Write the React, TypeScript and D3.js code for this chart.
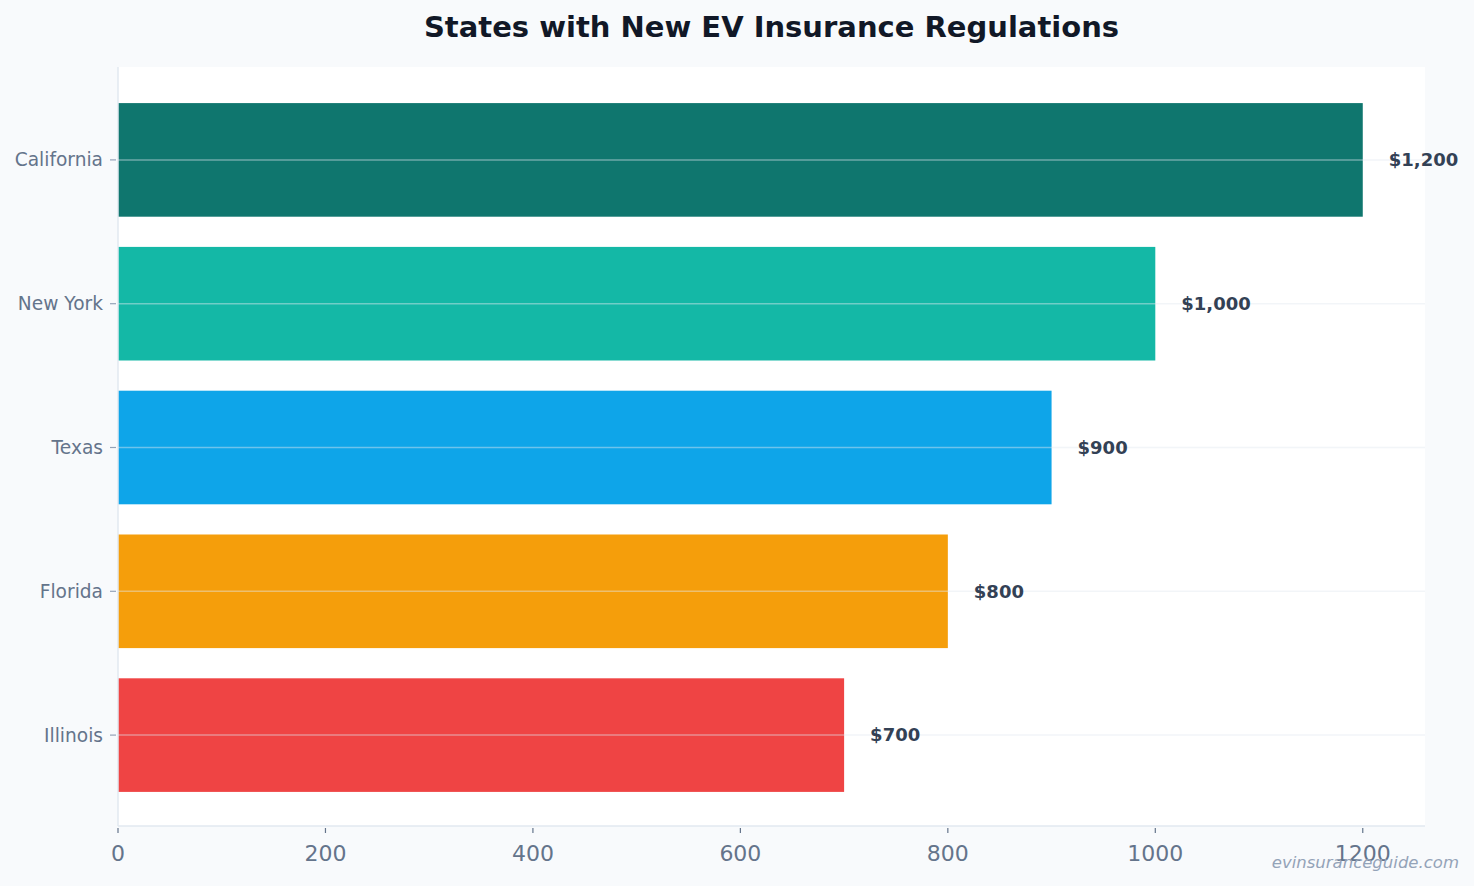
import React from "react";
import * as d3 from "d3";

const states = ["California", "New York", "Texas", "Florida", "Illinois"];
const costs = [1200, 1000, 900, 800, 700];
const barColors = ["#0f766e", "#14b8a6", "#0ea5e9", "#f59e0b", "#ef4444"];
const xTicks = [0, 200, 400, 600, 800, 1000, 1200];

const W = 1474;
const H = 886;
const plot = { left: 118, right: 1425, top: 67, bottom: 826 };
const FONT = "'DejaVu Sans', Verdana, sans-serif";

export default function App() {
  const x = d3.scaleLinear().domain([0, 1260]).range([plot.left, plot.right]);
  const y = d3
    .scaleBand<string>()
    .domain(states)
    .range([plot.top + 21, plot.bottom - 19])
    .paddingInner(0.21)
    .paddingOuter(0.105);
  const bw = y.bandwidth();
  const fmt = d3.format("$,");

  return (
    <svg
      width={W}
      height={H}
      style={{ position: "absolute", left: 0, top: 0, display: "block" }}
      fontFamily={FONT}
    >
      <rect width={W} height={H} fill="#f8fafc" />
      <rect
        x={plot.left}
        y={plot.top}
        width={plot.right - plot.left}
        height={plot.bottom - plot.top}
        fill="#ffffff"
      />

      <text
        x={(plot.left + plot.right) / 2}
        y={37}
        textAnchor="middle"
        fontSize={29}
        fontWeight="bold"
        fill="#111827"
      >
        States with New EV Insurance Regulations
      </text>

      {/* bars */}
      {states.map((s, i) => (
        <rect
          key={s}
          x={x(0)}
          y={y(s)!}
          width={x(costs[i]) - x(0)}
          height={bw}
          fill={barColors[i]}
        />
      ))}

      {/* horizontal gridlines at category centres, drawn over the bars */}
      {states.map((s) => {
        const cy = y(s)! + bw / 2;
        return (
          <line
            key={"g" + s}
            x1={plot.left}
            x2={plot.right}
            y1={cy}
            y2={cy}
            stroke="#e2e8f0"
            strokeOpacity={0.45}
            strokeWidth={1.5}
          />
        );
      })}

      {/* axis lines */}
      <line x1={plot.left} x2={plot.left} y1={plot.top} y2={plot.bottom} stroke="#e2e8f0" strokeWidth={1.5} />
      <line x1={plot.left} x2={plot.right} y1={plot.bottom} y2={plot.bottom} stroke="#e2e8f0" strokeWidth={1.5} />

      {/* y axis ticks and labels */}
      {states.map((s) => {
        const cy = y(s)! + bw / 2;
        return (
          <g key={"y" + s}>
            <line x1={110} x2={116} y1={cy} y2={cy} stroke="#94a3b8" strokeWidth={1.2} />
            <text x={103} y={cy} dy="0.35em" textAnchor="end" fontSize={18.6} fill="#64748b">
              {s}
            </text>
          </g>
        );
      })}

      {/* x axis ticks and labels */}
      {xTicks.map((t) => (
        <g key={"x" + t}>
          <line x1={x(t)} x2={x(t)} y1={plot.bottom + 2} y2={plot.bottom + 7} stroke="#64748b" strokeWidth={1.2} />
          <text x={x(t)} y={861} textAnchor="middle" fontSize={22} fill="#64748b">
            {t}
          </text>
        </g>
      ))}

      {/* value labels */}
      {states.map((s, i) => (
        <text
          key={"v" + s}
          x={x(costs[i]) + 26}
          y={y(s)! + bw / 2}
          dy="0.35em"
          fontSize={18}
          fontWeight="bold"
          fill="#334155"
        >
          {fmt(costs[i])}
        </text>
      ))}

      <text
        x={1459}
        y={868}
        textAnchor="end"
        fontSize={16.5}
        fontStyle="italic"
        fill="#94a3b8"
      >
        evinsuranceguide.com
      </text>
    </svg>
  );
}
